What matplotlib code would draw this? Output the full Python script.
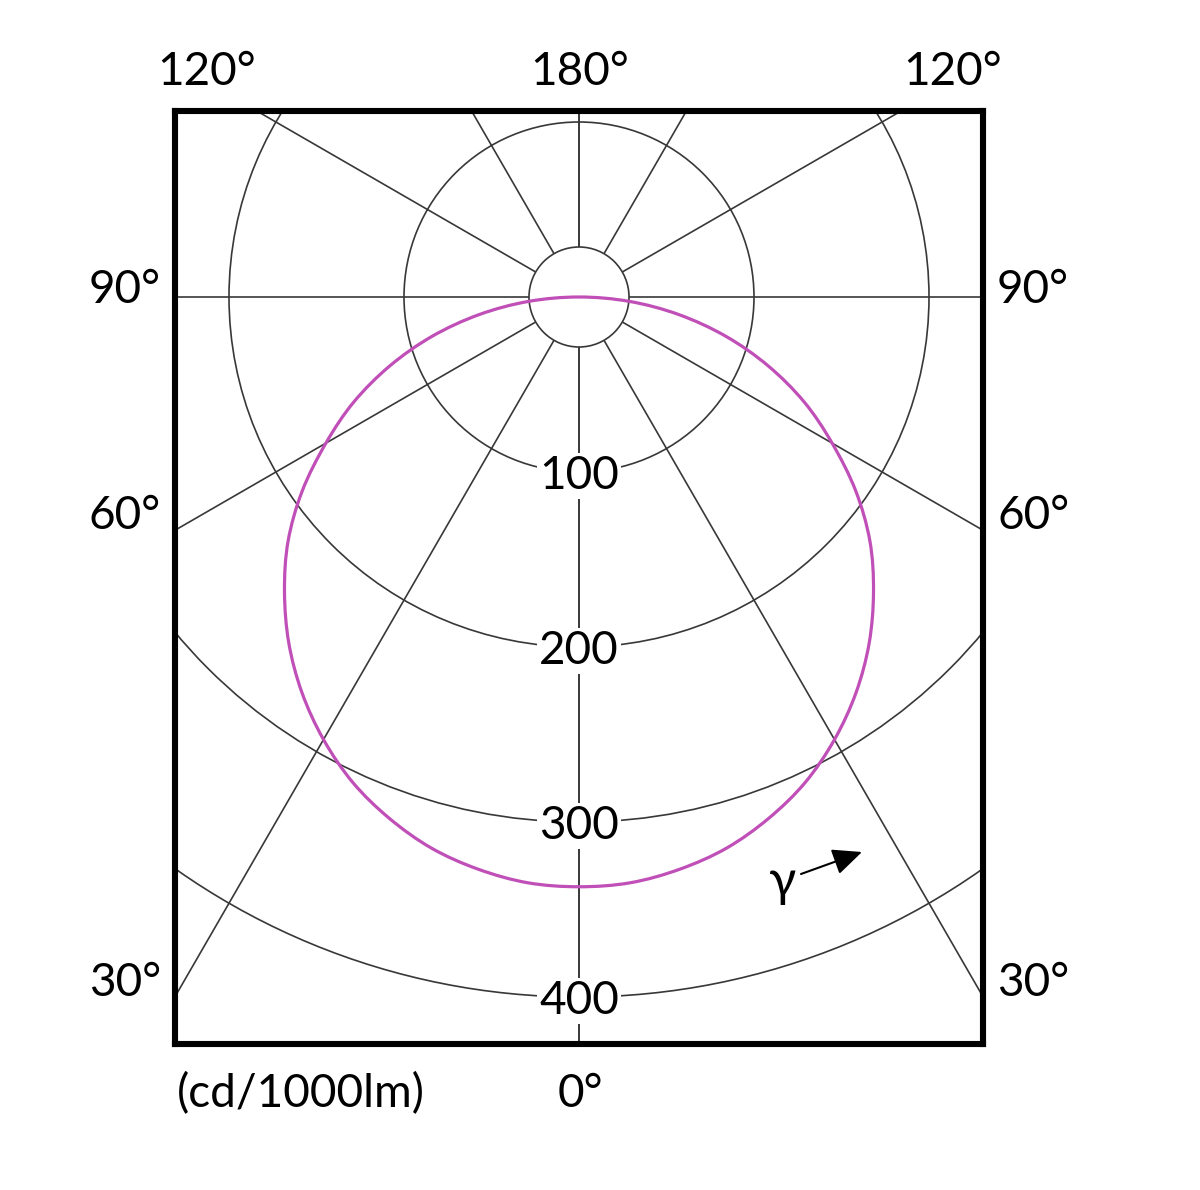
import numpy as np
import matplotlib
matplotlib.use('Agg')
import matplotlib.pyplot as plt
from matplotlib.patches import Circle, PathPatch
from matplotlib.path import Path

plt.rcParams['font.family'] = ['Lato', 'DejaVu Sans']

gamma = [0, 5, 10, 15, 20, 25, 30, 35, 40, 45, 50, 55, 60, 65, 70, 75, 80, 85, 90]
intensity = [337, 336, 332, 326, 317, 306, 292, 276, 258, 238, 217, 193,
             167, 142, 115, 87, 58, 29, 0]

ring_values = [100, 200, 300, 400]
ring_labels = ['100', '200', '300', '400']
spoke_angles = [0, 30, 60, 90, 120, 150, 180]

angle_labels = ['120°', '180°', '120°', '90°', '90°', '60°', '60°', '30°', '30°']
unit_label = '(cd/1000lm)'
zero_label = '0°'

# layout (pixels of the 1200x1190 picture)
W, H = 1200, 1190
cx, cy = 579, 297          # polar centre
s = 1.75                   # px per cd
fl, fr, ft, fb = 175, 983, 111, 1044
inner_r = 50 / s
grid_col = '#383838'
curve_col = '#c04fb8'
fs = 33


def px(x, y):
    return (x - cx) / s, (cy - y) / s


fig = plt.figure(figsize=(12, 11.9), dpi=100)
ax = fig.add_axes([fl / W, (H - fb) / H, (fr - fl) / W, (fb - ft) / H])
ax.set_xlim((fl - cx) / s, (fr - cx) / s)
ax.set_ylim((cy - fb) / s, (cy - ft) / s)
ax.set_xticks([])
ax.set_yticks([])
for sp in ax.spines.values():
    sp.set_linewidth(4.4)
    sp.set_color('black')
    sp.set_capstyle('projecting')
    sp.set_zorder(10)

# rings
ax.add_patch(Circle((0, 0), inner_r, fill=False, ec=grid_col, lw=1.2, zorder=2))
for r in ring_values:
    ax.add_patch(Circle((0, 0), r, fill=False, ec=grid_col, lw=1.2, zorder=2))

# spokes on both sides
for a in spoke_angles:
    t = np.radians(a)
    for side in (-1, 1):
        dx, dy = side * np.sin(t), -np.cos(t)
        ax.plot([inner_r * dx, 800 * dx], [inner_r * dy, 800 * dy],
                color=grid_col, lw=1.2, zorder=2, solid_capstyle='butt')

# ring value labels
for r, lab in zip(ring_values, ring_labels):
    ax.text(0, -r, lab, ha='center', va='center_baseline', fontsize=fs,
            zorder=4, bbox=dict(fc='white', ec='none', pad=1.5))

# intensity curve, mirrored on both halves, drawn as a closed smooth path
g = np.radians(gamma)
I = np.array(intensity, dtype=float)
xr, yr = I * np.sin(g), -I * np.cos(g)
xs = np.concatenate([-xr[::-1], xr[1:-1]])
ys = np.concatenate([yr[::-1], yr[1:-1]])
P = np.column_stack([xs, ys])
n = len(P)
verts = [P[0]]
codes = [Path.MOVETO]
for i in range(n):
    p0, p1, p2, p3 = P[(i - 1) % n], P[i], P[(i + 1) % n], P[(i + 2) % n]
    verts += [p1 + (p2 - p0) / 6, p2 - (p3 - p1) / 6, p2]
    codes += [Path.CURVE4] * 3
ax.add_patch(PathPatch(Path(verts, codes), fill=False, ec=curve_col,
                       lw=2.3, zorder=5))

# angle labels round the frame
label_pos = [(207, 85, 'center'), (580, 85, 'center'), (953, 85, 'center'),
             (161, 303, 'right'), (997, 303, 'left'),
             (161, 529, 'right'), (997, 529, 'left'),
             (161, 996, 'right'), (997, 996, 'left')]
for lab, (x, y, ha) in zip(angle_labels, label_pos):
    ax.text(*px(x, y), lab, ha=ha, va='baseline', fontsize=fs, clip_on=False)

ax.text(*px(177, 1107), unit_label, ha='left', va='baseline', fontsize=fs,
        clip_on=False)
ax.text(*px(580, 1107), zero_label, ha='center', va='baseline', fontsize=fs,
        clip_on=False)

# gamma direction marker
ax.text(*px(783, 882), 'γ', ha='center', va='center', fontsize=36, zorder=6)
ax.annotate('', xy=px(862, 852), xytext=px(801, 874),
            arrowprops=dict(arrowstyle='-|>,head_length=1.0,head_width=0.45',
                            color='black', lw=1.5, mutation_scale=18,
                            shrinkA=0, shrinkB=0), zorder=6)

fig.savefig('out.png', dpi=100, facecolor='white')
